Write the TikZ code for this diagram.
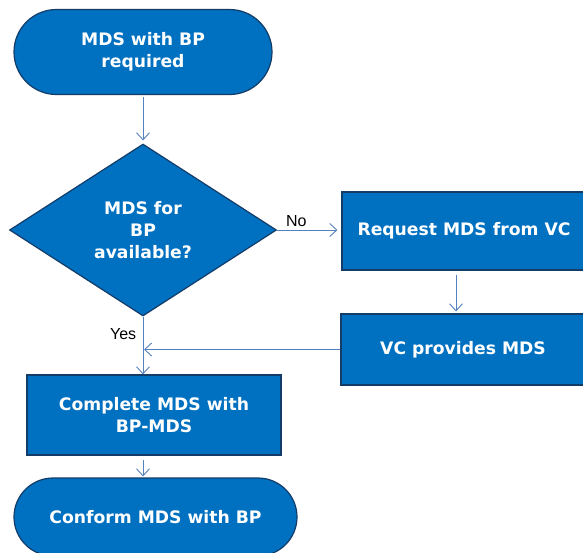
\documentclass[tikz,border=0pt]{standalone}
\usepackage{fontspec}
\setmainfont{DejaVu Sans}
\newfontfamily\labelfont{Liberation Sans}
\usetikzlibrary{shapes.geometric, shapes.misc, arrows.meta}
\definecolor{stepblue}{RGB}{0,112,192}
\definecolor{stepedge}{RGB}{20,60,105}
\definecolor{flowline}{RGB}{84,130,190}

\begin{document}
\begin{tikzpicture}[x=1pt, y=-1pt,
        box/.style={draw=stepedge, line width=1.2pt, fill=stepblue, text=white,
            font=\bfseries\fontsize{17.2}{22}\selectfont, align=center, inner sep=0pt},
        terminal/.style={box, rounded rectangle},
        decision/.style={box, diamond},
        flow/.style={draw=flowline, line width=0.9pt, -{Straight Barb[length=7pt,width=13pt]}},
        answer/.style={font=\labelfont\fontsize{16}{18}\selectfont}]
    \useasboundingbox (0,0) rectangle (583,552);

    \node[terminal, minimum width=258pt, minimum height=85pt] (start) at (143, 52) {MDS with BP\\required};
    \node[decision, minimum width=267pt, minimum height=172pt] (check) at (143, 230) {MDS for\\BP\\available?};
    \node[box, minimum width=244pt, minimum height=78pt] (request) at (464, 231) {Request MDS from VC};
    \node[box, minimum width=244pt, minimum height=71pt] (provide) at (463, 349.5) {VC provides MDS};
    \node[box, minimum width=254pt, minimum height=80pt] (complete) at (154, 415) {Complete MDS with\\BP-MDS};
    \node[terminal, minimum width=283pt, minimum height=78pt] (conform) at (155.5, 517) {Conform MDS with BP};

    \coordinate (join) at (check.south |- provide.west);

    \draw[flow, shorten <=2pt, shorten >=3pt] (start.south) -- (check.north);
    \draw[flow, shorten >=4pt] (check.east) -- node[answer, above, pos=0.3] {No} (check.east -| request.west);
    \draw[flow, shorten <=4pt, shorten >=2pt] ([xshift=-8pt]request.south) -- ([xshift=-7pt]provide.north);
    \draw[flow, shorten >=1pt] (provide.west) -- (join);
    \draw[flow] (check.south) -- node[answer, left, pos=0.3, xshift=-3pt] {Yes} (check.south |- complete.north);
    \draw[flow, shorten <=4pt, shorten >=1pt] (check.south |- complete.south) -- (check.south |- conform.north);
\end{tikzpicture}
\end{document}
